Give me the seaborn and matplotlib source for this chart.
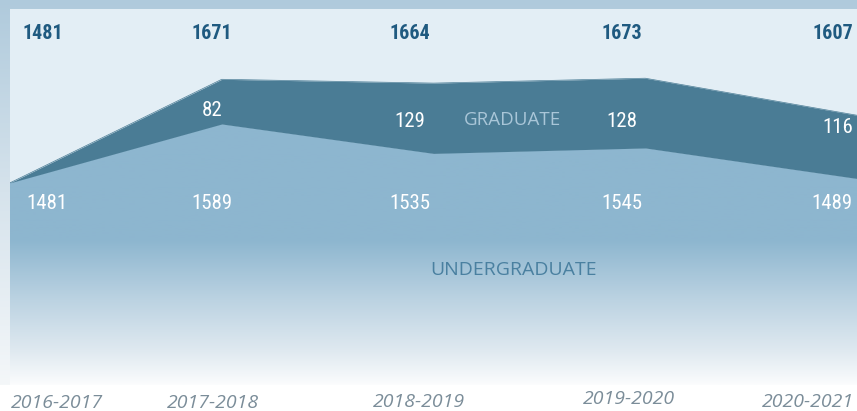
import numpy as np
import matplotlib
matplotlib.use("Agg")
import matplotlib.pyplot as plt
import matplotlib.colors as mcolors
from matplotlib import font_manager
import seaborn as sns

# data
years = ["2016-2017", "2017-2018", "2018-2019", "2019-2020", "2020-2021"]
undergrad = [1481, 1589, 1535, 1545, 1489]
graduate = [0, 82, 129, 128, 116]
totals = [1481, 1671, 1664, 1673, 1607]
grad_labels = ["", "82", "129", "128", "116"]

sns.set_theme(style="white")
plt.rcParams['font.family'] = ['Open Sans', 'DejaVu Sans']

GRAD_COL = "#4a7c95"
UG_COL = "#8db6cf"
PANEL = "#e3eef5"
FRAME = "#afcadc"
NUM_DARK = "#1f5a80"


# pick a narrow font for the numbers if one is around
def pick_narrow():
    for fam in ['Liberation Sans Narrow', 'Roboto Condensed', 'Open Sans Condensed',
                'Noto Sans Condensed', 'Arial Narrow']:
        try:
            font_manager.findfont(font_manager.FontProperties(family=fam),
                                  fallback_to_default=False)
            return fam, 'normal'
        except Exception:
            pass
    return 'DejaVu Sans', 'condensed'


NARROW, STRETCH = pick_narrow()

W, H = 857, 411
fig = plt.figure(figsize=(W / 100, H / 100), dpi=100)
fig.patch.set_facecolor("white")

# outer frame (light blue, fading toward the bottom)
bg = fig.add_axes([0, 1 - 385 / H, 1, 385 / H])
bg.set_axis_off()
frame_cmap = mcolors.LinearSegmentedColormap.from_list("frame", ["#f4f7f9", "#d6e3ec", FRAME])
bg.imshow(np.linspace(0, 1, 256).reshape(-1, 1), aspect="auto", cmap=frame_cmap,
          origin="lower", extent=[0, 1, 0, 1])

# main panel
ax = fig.add_axes([10 / W, 1 - 385 / H, 847 / W, 376 / H])
ax.set_facecolor(PANEL)
x = np.arange(len(years))
ylo, yhi = 1110, 1800

ug = np.array(undergrad)
tot = ug + np.array(graduate)

ax.fill_between(x, ug, tot, color=GRAD_COL, lw=0, zorder=2)
ug_poly = ax.fill_between(x, ylo, ug, color="none", lw=0, zorder=1)

# vertical gradient for undergrad area
ug_cmap = mcolors.LinearSegmentedColormap.from_list(
    "ug", [(0, "#fbfcfd"), (0.13, "#dfe9f0"), (0.32, "#bcd3e2"), (0.55, UG_COL), (1, UG_COL)])
grad = ax.imshow(np.linspace(0, 1, 256).reshape(-1, 1), aspect="auto", cmap=ug_cmap,
                 origin="lower", extent=[0, 4, ylo, ug.max() + 5], zorder=1)
grad.set_clip_path(ug_poly.get_paths()[0], transform=ax.transData)

sns.lineplot(x=x, y=tot, ax=ax, color=GRAD_COL, lw=0.5, zorder=3)

ax.set_xlim(0, 4)
ax.set_ylim(ylo, yhi)
ax.set_xticks([])
ax.set_yticks([])
for s in ax.spines.values():
    s.set_visible(False)

# value labels (small per-column nudges in pixels, like the original layout)
tr = ax.get_xaxis_transform()
px_per_unit = 847 / 4
nudge_px = [0, -10, -24, -23, 0]
grad_y = [0.73, 0.73, 0.702, 0.702, 0.684]
num_kw = dict(family=[NARROW, 'DejaVu Sans'], fontstretch=STRETCH, transform=tr, va="center")
for i in range(len(years)):
    ha = "center"
    dx = nudge_px[i] / px_per_unit
    if i == 0:
        ha, dx = "left", 0.06
    elif i == len(years) - 1:
        ha, dx = "right", -0.02
    ax.text(i + dx, 0.936, str(totals[i]), ha=ha, fontsize=14.5, fontweight="bold",
            color=NUM_DARK, **num_kw)
    if grad_labels[i]:
        ax.text(i + dx, grad_y[i], grad_labels[i], ha=ha, fontsize=15, color="white", **num_kw)
    ax.text(i + dx + (0.015 if i == 0 else 0), 0.484, str(undergrad[i]), ha=ha,
            fontsize=15, color="white", **num_kw)

ax.text(2.375, 0.705, "GRADUATE", transform=tr, ha="center", va="center",
        fontsize=13.5, color="#a9c6d8")
ax.text(2.38, 0.305, "UNDERGRADUATE", transform=tr, ha="center", va="center",
        fontsize=14, color="#4a80a0")

# category labels below the panel
label_px = [(57, 403), (213, 403), (419, 402), (629, 399), (854, 402)]
for (px, py), lab in zip(label_px, years):
    ha = "right" if lab == years[-1] else "center"
    fig.text(px / W, 1 - py / H, lab, ha=ha, va="center", fontsize=14,
             style="italic", color="#7b8d99")

fig.savefig("out.png", dpi=100, facecolor=fig.get_facecolor())
